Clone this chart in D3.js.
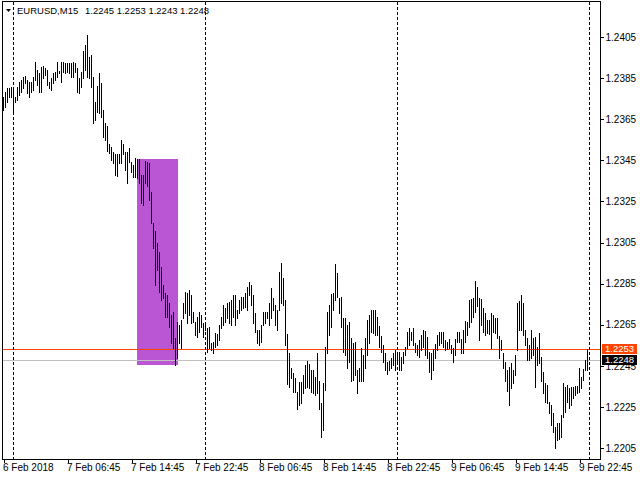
<!DOCTYPE html>
<html lang="en">
<head>
<meta charset="UTF-8">
<title>EURUSD,M15</title>
<script src="https://d3js.org/d3.v7.min.js"></script>
<style>
body { margin: 0; background: #fff; }
svg { display: block; font-family: "Liberation Sans", Arial, sans-serif; font-size: 9.5px; }
.bar { stroke: #000; stroke-width: 1px; shape-rendering: crispEdges; }
.axis path { display: none; }
.axis line { stroke: #000; shape-rendering: crispEdges; }
.axis text { fill: #000; }
</style>
</head>
<body>
<script>
// M15 bars, left to right (6 Feb 22:45 .. 9 Feb 23:45)
var symbol = "EURUSD,M15";
var highs = [
  1.23760,1.23784,1.23800,1.23800,1.23808,1.23792,1.23759,1.23808,1.23832,1.23841,
  1.23857,1.23860,1.23841,1.23832,1.23832,1.23857,1.23930,1.23889,1.23873,1.23902,
  1.23909,1.23898,1.23889,1.23832,1.23849,1.23873,1.23881,1.23930,1.23886,1.23930,
  1.23930,1.23922,1.23922,1.23925,1.23922,1.23930,1.23922,1.23898,1.23849,1.23881,
  1.23983,1.24011,1.24060,1.23954,1.23962,1.23857,1.23735,1.23812,1.23876,1.23825,
  1.23697,1.23633,1.23617,1.23529,1.23516,1.23492,1.23481,1.23481,1.23481,1.23549,
  1.23529,1.23492,1.23492,1.23508,1.23443,1.23427,1.23460,1.23456,1.23456,1.23378,
  1.23378,1.23447,1.23442,1.23437,1.23296,1.23145,1.23106,1.23048,1.23004,1.22931,
  1.22843,1.22804,1.22795,1.22756,1.22697,1.22712,1.22585,1.22663,1.22649,1.22673,
  1.22756,1.22811,1.22803,1.22819,1.22795,1.22713,1.22665,1.22689,1.22713,1.22697,
  1.22657,1.22649,1.22633,1.22638,1.22560,1.22567,1.22608,1.22603,1.22649,1.22689,
  1.22746,1.22730,1.22754,1.22762,1.22770,1.22795,1.22795,1.22722,1.22770,1.22786,
  1.22786,1.22803,1.22835,1.22859,1.22843,1.22795,1.22705,1.22624,1.22624,1.22649,
  1.22713,1.22713,1.22713,1.22754,1.22827,1.22779,1.22746,1.22722,1.22908,1.22949,
  1.22876,1.22770,1.22605,1.22512,1.22439,1.22415,1.22391,1.22323,1.22371,1.22371,
  1.22405,1.22454,1.22473,1.22459,1.22430,1.22430,1.22396,1.22512,1.22376,1.22269,
  1.22366,1.22541,1.22712,1.22746,1.22799,1.22804,1.22945,1.22902,1.22780,1.22785,
  1.22682,1.22682,1.22649,1.22663,1.22585,1.22561,1.22566,1.22430,1.22439,1.22537,
  1.22503,1.22585,1.22673,1.22697,1.22722,1.22722,1.22722,1.22687,1.22644,1.22595,
  1.22551,1.22512,1.22468,1.22473,1.22488,1.22512,1.22527,1.22503,1.22517,1.22493,
  1.22517,1.22541,1.22615,1.22634,1.22615,1.22634,1.22561,1.22551,1.22576,1.22600,
  1.22624,1.22619,1.22590,1.22517,1.22512,1.22532,1.22556,1.22600,1.22615,1.22615,
  1.22616,1.22576,1.22567,1.22580,1.22551,1.22537,1.22580,1.22616,1.22616,1.22580,
  1.22624,1.22669,1.22665,1.22770,1.22775,1.22780,1.22863,1.22835,1.22780,1.22775,
  1.22731,1.22707,1.22673,1.22673,1.22707,1.22697,1.22683,1.22683,1.22595,1.22576,
  1.22512,1.22470,1.22430,1.22446,1.22464,1.22430,1.22503,1.22756,1.22765,1.22795,
  1.22756,1.22624,1.22585,1.22551,1.22624,1.22585,1.22590,1.22542,1.22610,1.22493,
  1.22420,1.22366,1.22356,1.22274,1.22259,1.22220,1.22152,1.22172,1.22172,1.22211,
  1.22366,1.22347,1.22356,1.22342,1.22347,1.22347,1.22352,1.22352,1.22439,1.22396,
  1.22434,1.22478,1.22530
];
var lows = [
  1.23695,1.23711,1.23735,1.23759,1.23759,1.23686,1.23735,1.23743,1.23768,1.23784,
  1.23800,1.23825,1.23776,1.23759,1.23784,1.23792,1.23841,1.23816,1.23784,1.23784,
  1.23849,1.23865,1.23816,1.23800,1.23792,1.23825,1.23841,1.23857,1.23873,1.23832,
  1.23881,1.23873,1.23881,1.23873,1.23857,1.23857,1.23881,1.23784,1.23776,1.23808,
  1.23849,1.23889,1.23857,1.23849,1.23808,1.23630,1.23646,1.23686,1.23682,1.23659,
  1.23565,1.23549,1.23497,1.23487,1.23451,1.23435,1.23378,1.23374,1.23435,1.23435,
  1.23481,1.23403,1.23338,1.23443,1.23394,1.23370,1.23370,1.23364,1.23340,1.23242,
  1.23232,1.23340,1.23325,1.23257,1.23145,1.23023,1.22843,1.22916,1.22809,1.22770,
  1.22780,1.22687,1.22687,1.22639,1.22561,1.22537,1.22454,1.22488,1.22561,1.22537,
  1.22683,1.22705,1.22657,1.22697,1.22660,1.22665,1.22600,1.22592,1.22616,1.22640,
  1.22592,1.22624,1.22519,1.22535,1.22527,1.22511,1.22543,1.22551,1.22576,1.22633,
  1.22649,1.22665,1.22681,1.22657,1.22649,1.22689,1.22649,1.22681,1.22705,1.22722,
  1.22730,1.22738,1.22722,1.22795,1.22746,1.22657,1.22616,1.22560,1.22551,1.22567,
  1.22649,1.22657,1.22681,1.22649,1.22681,1.22722,1.22649,1.22624,1.22722,1.22754,
  1.22746,1.22551,1.22361,1.22347,1.22391,1.22323,1.22323,1.22240,1.22259,1.22269,
  1.22318,1.22342,1.22347,1.22342,1.22323,1.22318,1.22308,1.22318,1.22240,1.22104,
  1.22138,1.22332,1.22512,1.22600,1.22638,1.22722,1.22770,1.22785,1.22707,1.22638,
  1.22517,1.22503,1.22439,1.22468,1.22376,1.22381,1.22405,1.22318,1.22376,1.22376,
  1.22376,1.22439,1.22503,1.22561,1.22615,1.22610,1.22600,1.22600,1.22542,1.22517,
  1.22468,1.22430,1.22410,1.22430,1.22439,1.22454,1.22430,1.22464,1.22430,1.22430,
  1.22464,1.22503,1.22537,1.22551,1.22576,1.22551,1.22517,1.22503,1.22493,1.22527,
  1.22542,1.22503,1.22488,1.22420,1.22386,1.22430,1.22488,1.22527,1.22551,1.22561,
  1.22543,1.22527,1.22530,1.22537,1.22512,1.22468,1.22503,1.22567,1.22567,1.22512,
  1.22512,1.22567,1.22600,1.22640,1.22665,1.22689,1.22713,1.22741,1.22576,1.22649,
  1.22616,1.22600,1.22610,1.22605,1.22537,1.22616,1.22610,1.22585,1.22488,1.22527,
  1.22439,1.22376,1.22329,1.22259,1.22342,1.22366,1.22405,1.22527,1.22624,1.22624,
  1.22600,1.22551,1.22478,1.22478,1.22488,1.22503,1.22347,1.22454,1.22464,1.22376,
  1.22318,1.22274,1.22269,1.22220,1.22162,1.22128,1.22050,1.22089,1.22094,1.22104,
  1.22201,1.22225,1.22274,1.22245,1.22259,1.22293,1.22308,1.22318,1.22323,1.22342,
  1.22381,1.22430,1.22430
];
var lastBar = [1.2245, 1.2253, 1.2243, 1.2248];   // open high low close
var timeLabels = ["6 Feb 2018", "7 Feb 06:45", "7 Feb 14:45", "7 Feb 22:45", "8 Feb 06:45",
                  "8 Feb 14:45", "8 Feb 22:45", "9 Feb 06:45", "9 Feb 14:45", "9 Feb 22:45"];
var labelBars = [0, 32, 64, 96, 128, 160, 192, 224, 256, 288];
var dayStartBars = [5, 101, 197, 293];
var priceTicks = [1.2205, 1.2225, 1.2245, 1.2265, 1.2285, 1.2305, 1.2325, 1.2345, 1.2365, 1.2385, 1.2405];
var zoneBars = [67, 87];
var zonePrices = [1.23456, 1.22454];
var askPrice = 1.2253, bidPrice = 1.2248;

var W = 640, H = 480;
var plotL = 2, plotR = 600, plotT = 2, plotB = 459;

var svg = d3.select("body").append("svg")
    .attr("width", W)
    .attr("height", H);

var x = d3.scaleLinear().domain([0, 293]).range([3, 589]);
var y = d3.scaleLinear().domain([1.219965, 1.242203]).range([plotB, plotT]);

// rectangle object
svg.append("rect")
    .attr("x", x(zoneBars[0]))
    .attr("y", Math.round(y(zonePrices[0])))
    .attr("width", x(zoneBars[1]) - x(zoneBars[0]) + 1)
    .attr("height", Math.round(y(zonePrices[1])) - Math.round(y(zonePrices[0])))
    .attr("fill", "#ba55d3");

// ask / bid lines
svg.append("line")
    .attr("x1", plotL).attr("x2", plotR)
    .attr("y1", Math.round(y(bidPrice)) + 0.5).attr("y2", Math.round(y(bidPrice)) + 0.5)
    .attr("stroke", "#c0c0c0");
svg.append("line")
    .attr("x1", plotL).attr("x2", plotR)
    .attr("y1", Math.round(y(askPrice)) + 0.5).attr("y2", Math.round(y(askPrice)) + 0.5)
    .attr("stroke", "#ff4500");

// period separators
svg.selectAll(".sep")
    .data(dayStartBars)
  .enter().append("line")
    .attr("class", "sep")
    .attr("x1", function(d) { return x(d) + 0.5; })
    .attr("x2", function(d) { return x(d) + 0.5; })
    .attr("y1", plotT).attr("y2", plotB)
    .attr("stroke", "#000")
    .attr("stroke-dasharray", "3,2");

// bars (high-low)
svg.selectAll(".bar")
    .data(highs)
  .enter().append("line")
    .attr("class", "bar")
    .attr("x1", function(d, i) { return x(i) + 0.5; })
    .attr("x2", function(d, i) { return x(i) + 0.5; })
    .attr("y1", function(d) { return Math.round(y(d)); })
    .attr("y2", function(d, i) { return Math.max(Math.round(y(lows[i])), Math.round(y(d)) + 1) + 1; });

// frame
svg.append("rect")
    .attr("x", plotL + 0.5).attr("y", plotT - 0.5)
    .attr("width", plotR - plotL).attr("height", plotB - plotT + 1)
    .attr("fill", "none").attr("stroke", "#000")
    .style("shape-rendering", "crispEdges");

// price axis
var yAxis = d3.axisRight(y)
    .tickValues(priceTicks)
    .tickSize(3)
    .tickPadding(2)
    .tickFormat(d3.format(".4f"));

svg.append("g")
    .attr("class", "axis")
    .attr("transform", "translate(" + (plotR + 0.5) + ",0)")
    .call(yAxis);

// time axis
var xAxis = d3.axisBottom(x)
    .tickValues(labelBars)
    .tickSize(3)
    .tickFormat(function(d, i) { return timeLabels[i]; });

var xg = svg.append("g")
    .attr("class", "axis")
    .attr("transform", "translate(0.5," + (plotB + 0.5) + ")")
    .call(xAxis);
xg.selectAll("text")
    .attr("text-anchor", "start")
    .attr("x", -1)
    .attr("y", 4)
    .attr("dy", "0.71em");

// price labels for ask / bid
[[askPrice, "#ff4500"], [bidPrice, "#000"]].forEach(function(p) {
    var cy = Math.round(y(p[0]));
    svg.append("rect")
        .attr("x", plotR + 2).attr("y", cy - 5)
        .attr("width", 35).attr("height", 10)
        .attr("fill", p[1]);
    svg.append("text")
        .attr("x", plotR + 5).attr("y", cy)
        .attr("dy", "0.35em")
        .attr("fill", "#fff")
        .text(p[0].toFixed(4));
});

// title
svg.append("path")
    .attr("d", "M6,9L11,9L8.5,12Z")
    .attr("fill", "#000");
svg.append("text")
    .attr("x", 17).attr("y", 14)
    .text(symbol);
svg.append("text")
    .attr("x", 85).attr("y", 14)
    .text(lastBar.map(function(v) { return v.toFixed(4); }).join(" "));
</script>
</body>
</html>
